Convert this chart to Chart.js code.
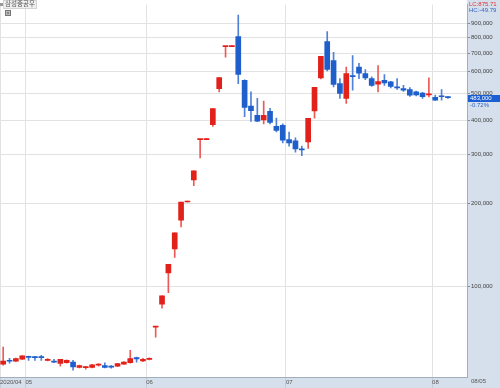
<!DOCTYPE html>
<html>
<head>
<meta charset="utf-8">
<script src="https://cdn.jsdelivr.net/npm/chart.js@4"></script>
<style>
  html, body { margin: 0; padding: 0; background: #fff; }
</style>
</head>
<body>
<canvas id="myChart" width="500" height="388"></canvas>
<script>
// 삼성중공우 일봉 (2020/04/24 ~ 2020/08/05)
const dates = [
  '2020/04/24', '2020/04/27', '2020/04/28', '2020/04/29',
  '2020/05/04', '2020/05/06', '2020/05/07', '2020/05/08',
  '2020/05/11', '2020/05/12', '2020/05/13', '2020/05/14', '2020/05/15',
  '2020/05/18', '2020/05/19', '2020/05/20', '2020/05/21', '2020/05/22',
  '2020/05/25', '2020/05/26', '2020/05/27', '2020/05/28', '2020/05/29',
  '2020/06/01', '2020/06/02', '2020/06/03', '2020/06/04', '2020/06/05',
  '2020/06/08', '2020/06/09', '2020/06/10', '2020/06/11', '2020/06/12',
  '2020/06/15', '2020/06/16', '2020/06/17', '2020/06/18', '2020/06/19',
  '2020/06/22', '2020/06/23', '2020/06/24', '2020/06/25', '2020/06/26',
  '2020/06/29', '2020/06/30',
  '2020/07/01', '2020/07/02', '2020/07/03',
  '2020/07/06', '2020/07/07', '2020/07/08', '2020/07/09', '2020/07/10',
  '2020/07/13', '2020/07/14', '2020/07/15', '2020/07/16', '2020/07/17',
  '2020/07/20', '2020/07/21', '2020/07/22', '2020/07/23', '2020/07/24',
  '2020/07/27', '2020/07/28', '2020/07/29', '2020/07/30', '2020/07/31',
  '2020/08/03', '2020/08/04', '2020/08/05'
]
const opens = [
  52100, 53600, 53400, 54300,
  55600, 55500, 55200, 53800, 53500, 52400, 52700, 53000, 50700, 50600,
  50700, 51700, 51500, 50900, 51200, 52100, 52700, 55100, 53500,
  54200, 71000, 86000, 111600, 136500, 173400, 202000, 243000, 340000, 340000,
  385000, 521000, 740000, 740000, 805000, 558000, 450000, 417000, 401000, 431000,
  380000, 383000,
  340000, 336500, 315000, 334000, 432000, 570000, 772000, 658000, 543000, 480000,
  578000, 623000, 590000, 566000, 541000, 558000, 551000, 526000, 521000, 517000,
  507000, 502000, 494000,
  484000, 487500, 484000
]
const highs = [
  60100, 54700, 54800, 56000,
  55700, 55600, 56100, 54600, 54200, 54300, 54000, 53800, 51700, 51200,
  52000, 52400, 52700, 51500, 52500, 53200, 58500, 55300, 54700,
  54900, 71000, 92300, 120000, 156000, 202000, 202000, 262000, 340000, 340000,
  441000, 571000, 740000, 740000, 962000, 560000, 507000, 480000, 469000, 442000,
  407000, 388000,
  362000, 345000, 322000, 406000, 526000, 682000, 839000, 705000, 566000, 623000,
  686000, 644000, 611000, 575000, 631000, 586000, 553000, 566000, 535000, 525000,
  510000, 505000, 570000,
  493000, 517000, 487000
]
const lows = [
  51700, 52500, 53200, 54100,
  53800, 53800, 53800, 53500, 52700, 51200, 52500, 49550, 50500, 50000,
  50500, 51200, 50500, 50400, 51000, 52000, 52500, 53000, 53200,
  54000, 65300, 83200, 94600, 127000, 164000, 202000, 231500, 292000, 340000,
  380000, 507000, 677000, 740000, 543000, 412000, 396000, 395000, 388000, 388000,
  363000, 331000,
  322000, 306000, 297500, 316000, 407000, 565000, 604000, 528000, 480000, 460000,
  514000, 566000, 561000, 530000, 507000, 535000, 524000, 517000, 509000, 488000,
  490000, 480000, 486000,
  472000, 473000, 480000
]
const closes = [
  53500, 53400, 54600, 55800,
  55100, 55000, 55000, 53900, 53000, 54200, 53800, 50900, 51500, 50700,
  51800, 51800, 50700, 50800, 52400, 53000, 54600, 54400, 54200,
  54700, 71000, 92300, 120000, 156000, 202000, 202000, 262000, 340000, 340000,
  441000, 571000, 740000, 740000, 586000, 445000, 433500, 397000, 417000, 393000,
  367500, 338500,
  331000, 315000, 312000, 406000, 526000, 682000, 611000, 540000, 500000, 590000,
  576000, 593000, 570000, 535000, 552000, 546000, 531000, 524000, 514000, 493000,
  494000, 486500, 497000,
  473000, 486500, 483000
]
const priceTicks = [100000, 200000, 300000, 400000, 500000, 600000, 700000, 800000, 900000]

const stockName = '삼성중공우'
const lastPrice = 483000
const lastChange = '-0.72%'
const lowCompare = 'LC:875.71'
const highCompare = 'HC:-49.79'

const upColor = '#e3211b'
const downColor = '#1f5fcb'
const upWick = '#ec5a55'
const downWick = '#4f82d6'
const tickFont = { family: "'Liberation Sans', Arial, sans-serif", size: 6 }

// 월 구분선 (월이 바뀌는 봉 앞)
const monthTicks = []
dates.forEach((d, i) => {
  if (i === 0) monthTicks.push({ pos: -0.5, label: d.slice(0, 7) })
  else if (d.slice(5, 7) !== dates[i - 1].slice(5, 7)) monthTicks.push({ pos: i - 0.5, label: d.slice(5, 7) })
})

const isUp = closes.map((c, i) => c >= opens[i])

const panelPlugin = {
  id: 'panel',
  beforeDraw(chart) {
    const { ctx, chartArea: a, width, height } = chart
    ctx.save()
    ctx.fillStyle = '#ffffff'
    ctx.fillRect(0, 0, width, height)
    ctx.fillStyle = '#d6e0ec'
    ctx.fillRect(a.right, 0, width - a.right, height)
    ctx.fillRect(0, a.bottom, width, height - a.bottom)
    ctx.restore()
  },
  afterDraw(chart) {
    const { ctx, chartArea: a, width } = chart
    const yScale = chart.scales.y
    ctx.save()
    ctx.font = "6px 'Liberation Sans', Arial, sans-serif"
    ctx.textBaseline = 'top'
    ctx.textAlign = 'left'

    // LC / HC
    ctx.fillStyle = '#e03030'
    ctx.fillText(lowCompare, a.right + 2, 1)
    ctx.fillStyle = '#2f62c0'
    ctx.fillText(highCompare, a.right + 2, 7)

    // 현재가 박스
    const py = Math.round(yScale.getPixelForValue(lastPrice))
    ctx.fillStyle = '#1b5fd3'
    ctx.fillRect(a.right + 1, py - 3, width - a.right - 1, 7)
    ctx.fillStyle = '#ffffff'
    ctx.fillText(lastPrice.toLocaleString('en-US'), a.right + 3, py - 2.5)
    ctx.fillStyle = '#2f62c0'
    ctx.fillText(lastChange, a.right + 3, py + 4.5)

    // 마지막 날짜
    ctx.fillStyle = '#555'
    ctx.fillText(dates[dates.length - 1].slice(5), a.right + 4, a.bottom + 1.5)

    // 종목명
    ctx.fillStyle = '#efefef'
    ctx.fillRect(3, 0, 34, 9)
    ctx.strokeStyle = '#d4d4d4'
    ctx.strokeRect(3.5, 0.5, 33, 8)
    ctx.fillStyle = '#999'
    ctx.fillRect(0, 3, 3, 3)
    ctx.font = "6.5px 'Noto Sans CJK KR', sans-serif"
    ctx.fillStyle = '#555'
    ctx.fillText(stockName, 5, 0.5)
    ctx.fillStyle = '#c8c8c8'
    ctx.fillRect(5, 10, 6, 6)
    ctx.strokeStyle = '#777'
    ctx.strokeRect(5.5, 10.5, 5, 5)
    ctx.beginPath()
    ctx.moveTo(8, 11.5); ctx.lineTo(8, 14.5)
    ctx.moveTo(6.5, 13); ctx.lineTo(9.5, 13)
    ctx.stroke()
    ctx.restore()
  }
}

new Chart('myChart', {
  type: 'bar',
  data: {
    datasets: [
      {
        label: 'body',
        data: dates.map((d, i) => ({ x: i, y: [opens[i], closes[i]] })),
        backgroundColor: isUp.map(u => u ? upColor : downColor),
        barThickness: 5,
        minBarLength: 1,
        grouped: false
      },
      {
        label: 'wick',
        data: dates.map((d, i) => ({ x: i, y: [lows[i], highs[i]] })),
        backgroundColor: isUp.map(u => u ? upWick : downWick),
        barThickness: 1,
        minBarLength: 1,
        grouped: false
      }
    ]
  },
  options: {
    responsive: false,
    animation: false,
    devicePixelRatio: 1,
    layout: { padding: 0 },
    plugins: { legend: { display: false }, tooltip: { enabled: false } },
    scales: {
      x: {
        type: 'linear',
        offset: false,
        min: -0.5,
        max: 73,
        afterBuildTicks: s => { s.ticks = monthTicks.map(t => ({ value: t.pos })) },
        afterFit: s => { s.height = 11 },
        grid: { offset: false, color: '#e2e2e2', tickColor: '#c4ccd6', tickLength: 11 },
        border: { color: '#a3aebb' },
        ticks: {
          autoSkip: false,
          maxRotation: 0,
          align: 'start',
          padding: -9,
          color: '#555',
          font: tickFont,
          callback: (v, i) => monthTicks[i] ? monthTicks[i].label : ''
        }
      },
      y: {
        type: 'logarithmic',
        position: 'right',
        min: 46800,
        max: 1051000,
        afterBuildTicks: s => { s.ticks = priceTicks.map(v => ({ value: v })) },
        afterFit: s => { s.width = 33 },
        grid: { color: '#e2e2e2', tickColor: '#7d8a9a', tickLength: 3 },
        border: { color: '#a3aebb' },
        ticks: {
          padding: 1,
          color: '#444',
          font: tickFont,
          callback: v => Number(v).toLocaleString('en-US')
        }
      }
    }
  },
  plugins: [panelPlugin]
})
</script>
</body>
</html>
